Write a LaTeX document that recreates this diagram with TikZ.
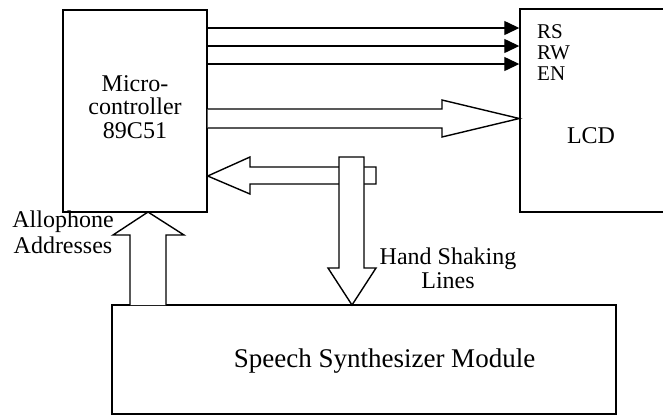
\documentclass[tikz,border=0pt]{standalone}
\usepackage{fontspec}
\setmainfont{Liberation Serif}
\usetikzlibrary{arrows.meta}
\begin{document}
\begin{tikzpicture}[x=1pt,y=-1pt,
  box/.style={draw, line width=1.4pt, inner sep=0pt},
  blk/.style={draw, line width=1.4pt, fill=white, line join=miter},
  sig/.style={line width=1.3pt, -{Triangle[length=15pt,width=14pt]}},
  txt/.style={font=\fontsize{24}{24}\selectfont, inner sep=0pt},
  small/.style={font=\fontsize{21}{22}\selectfont, inner sep=0pt}]
\useasboundingbox (0,0) rectangle (663,416);
\clip (0,0) rectangle (663,416);
% boxes
\node[box, minimum width=144pt, minimum height=202pt] (mc) at (135,111) {};
\node[box, minimum width=145pt, minimum height=203pt] (lcd) at (592.5,110.5) {};
\node[box, minimum width=504pt, minimum height=109pt] (ssm) at (364,359.5) {};
% thin signal arrows
\draw[sig] (mc.east |- 0,28) -- (lcd.west |- 0,28);
\draw[sig] (mc.east |- 0,46) -- (lcd.west |- 0,46);
\draw[sig] (mc.east |- 0,64) -- (lcd.west |- 0,64);
% data bus to LCD
\draw[blk] (mc.east |- 0,109) -- (442,109) -- (442,100) -- (lcd.west |- 0,118.5)
  -- (442,137) -- (442,128) -- (mc.east |- 0,128);
% bus back to microcontroller
\draw[blk] (mc.east |- 0,176) -- (250,157) -- (250,167) -- (376,167) -- (376,184)
  -- (250,184) -- (250,194) -- cycle;
% hand shaking down arrow
\draw[blk] (339,157) -- (364,157) -- (364,268) -- (376,268) -- (352,305)
  -- (328,268) -- (339,268) -- cycle;
% allophone addresses up arrow
\draw[blk] (130,305) -- (130,235) -- (113,235) -- (148,212) -- (184,235)
  -- (166,235) -- (166,305);
% texts
\node[txt, align=center, anchor=north, font=\fontsize{24}{23.5}\selectfont] (mct) at (135,75) {Micro-\\controller\\89C51};
\node[txt] (lcdt) at (591,136) {LCD};
\node[small, anchor=base west] (rs) at (537,38) {RS};
\node[small, anchor=base west] (rw) at (537,59) {RW};
\node[small, anchor=base west] (en) at (537,80) {EN};
\node[txt, align=center, anchor=north, font=\fontsize{24}{26}\selectfont] (allo) at (63,211) {Allophone\\Addresses};
\node[txt, align=center, anchor=north] (hs) at (448,248) {Hand Shaking\\Lines};
\node[txt, anchor=base, font=\fontsize{27}{28}\selectfont] (ssmt) at (384.5,367) {Speech Synthesizer Module};
\end{tikzpicture}
\end{document}
